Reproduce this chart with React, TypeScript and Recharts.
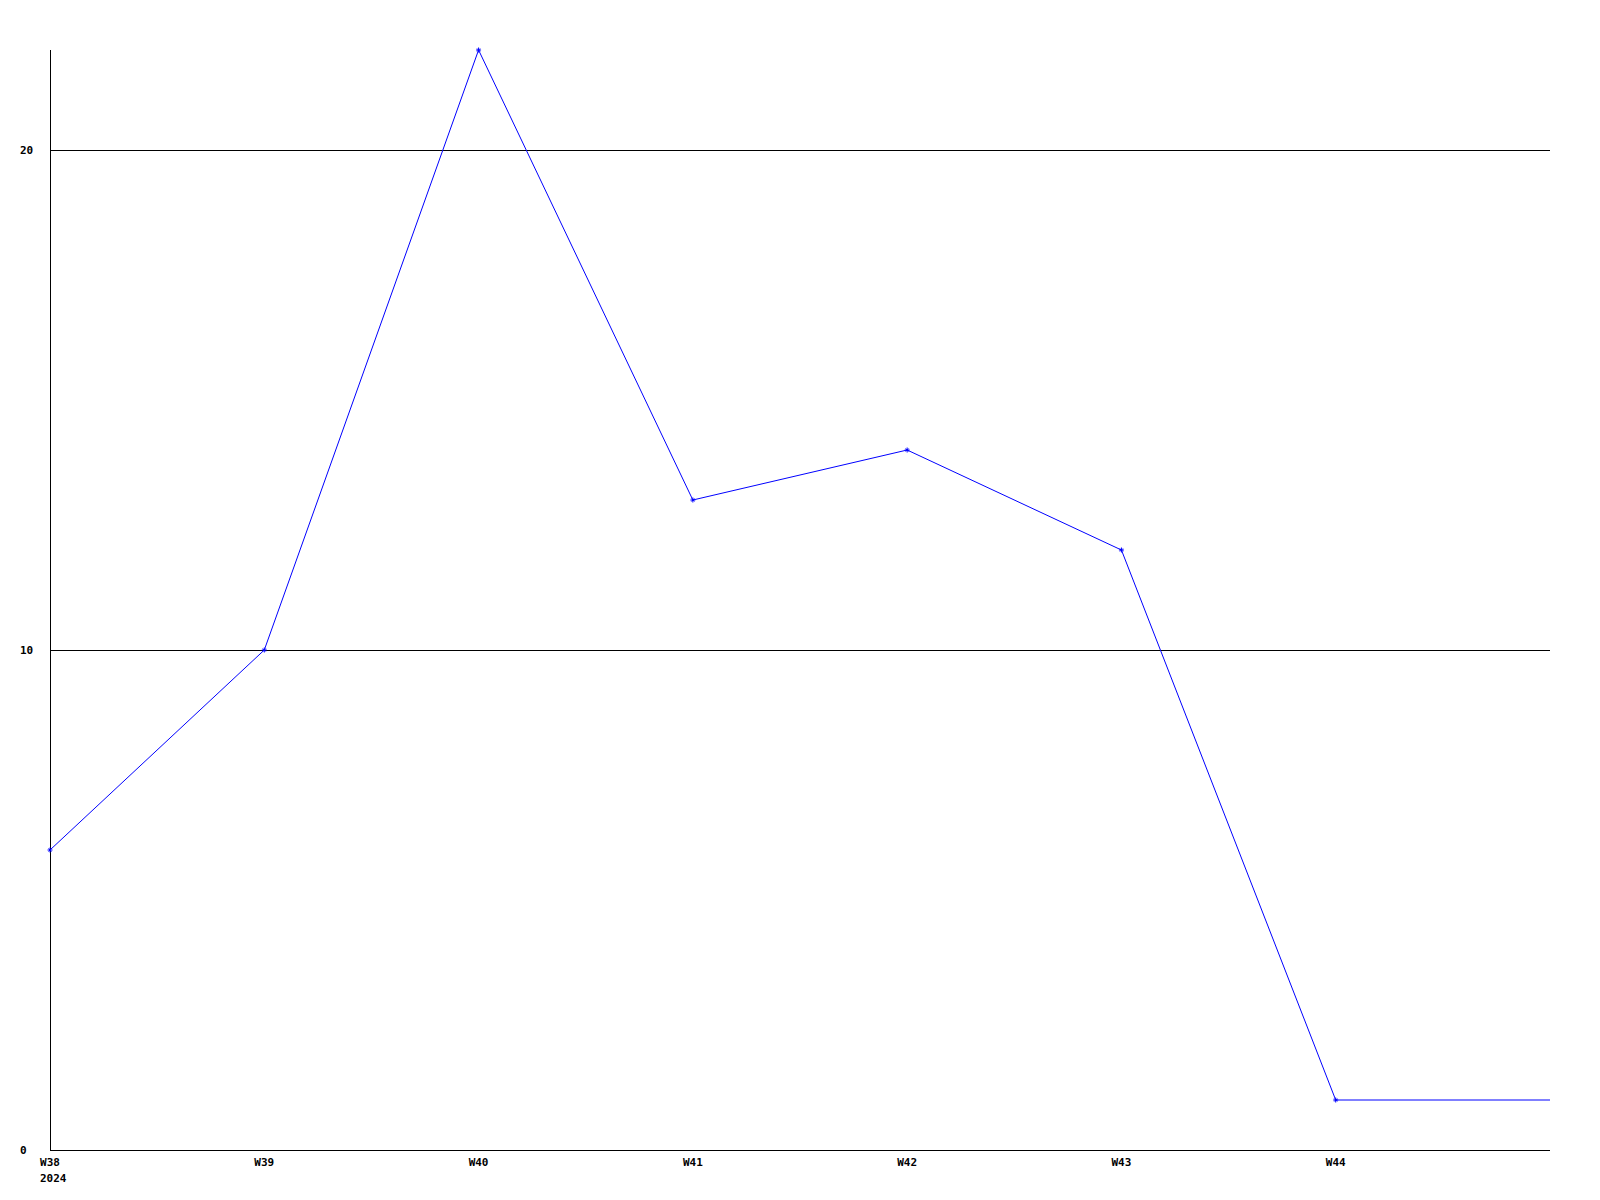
import React from 'react'
import { LineChart, Line, XAxis, YAxis, CartesianGrid } from 'recharts'

const weeks = ['W38', 'W39', 'W40', 'W41', 'W42', 'W43', 'W44', 'W45']
const counts = [6, 10, 22, 13, 14, 12, 1, 1]
const yTicks = [0, 10, 20]
const firstYear = '2024'

const data = weeks.map((week, i) => ({ week, count: counts[i] }))

const FONT = '"DejaVu Sans Mono", monospace'

const WeekTick = ({ x, y, payload, index }: any) => {
  // the last point is the running week, it has no label
  if (index === weeks.length - 1) return null
  return (
    <g>
      <text x={x} y={y + 16} textAnchor="middle" fontFamily={FONT} fontWeight="bold" fontSize={11} fill="#000">
        {payload.value}
      </text>
      {index === 0 && (
        <text x={x - 10} y={y + 32} textAnchor="start" fontFamily={FONT} fontWeight="bold" fontSize={11} fill="#000">
          {firstYear}
        </text>
      )}
    </g>
  )
}

const CountTick = ({ y, payload }: any) => (
  <text x={20} y={y + 4} textAnchor="start" fontFamily={FONT} fontWeight="bold" fontSize={11} fill="#000">
    {payload.value}
  </text>
)

const StarDot = ({ cx, cy, index }: any) => {
  if (index === weeks.length - 1 || cx == null) return null
  return (
    <path
      d={`M${cx - 2.5},${cy} L${cx + 2.5},${cy} M${cx},${cy - 2.5} L${cx},${cy + 2.5} M${cx - 1.5},${cy - 1.5} L${cx + 1.5},${cy + 1.5} M${cx - 1.5},${cy + 1.5} L${cx + 1.5},${cy - 1.5}`}
      stroke="#0000ff"
      strokeWidth={1}
      fill="none"
    />
  )
}

export default function App() {
  return (
    <div style={{ position: 'absolute', left: 0, top: 0, width: 1600, height: 1200, background: '#fff' }}>
      <LineChart width={1600} height={1200} data={data} margin={{ top: 50, right: 50, bottom: 20, left: 20 }}>
        <CartesianGrid
          vertical={false}
          horizontalValues={yTicks}
          stroke="#000"
          strokeDasharray=""
          shapeRendering="crispEdges"
        />
        <XAxis
          dataKey="week"
          height={30}
          tickLine={false}
          tickSize={0}
          tickMargin={0}
          axisLine={{ stroke: '#000', shapeRendering: 'crispEdges' }}
          tick={<WeekTick />}
          interval={0}
        />
        <YAxis
          type="number"
          domain={[0, 22]}
          ticks={yTicks}
          width={30}
          tickLine={false}
          axisLine={{ stroke: '#000', shapeRendering: 'crispEdges' }}
          tick={<CountTick />}
          interval={0}
        />
        <Line
          type="linear"
          dataKey="count"
          stroke="#0000ff"
          strokeWidth={1}
          dot={<StarDot />}
          activeDot={false}
          isAnimationActive={false}
        />
      </LineChart>
    </div>
  )
}
